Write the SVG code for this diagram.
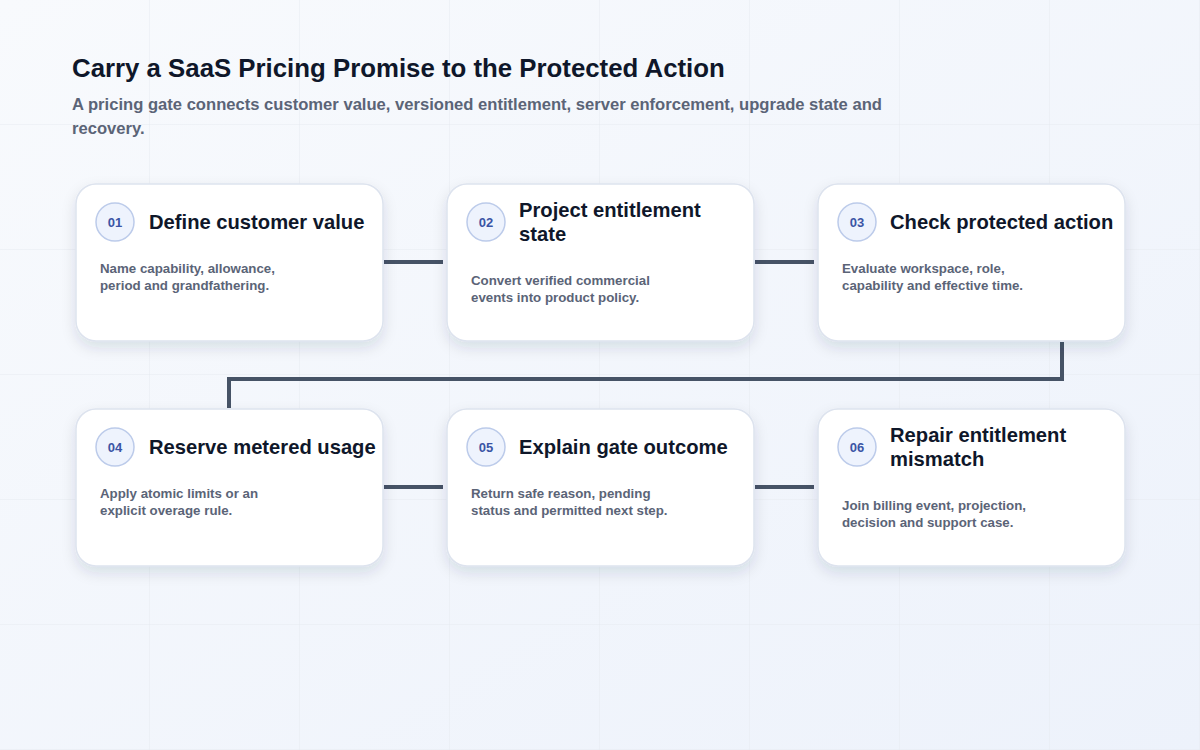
<svg xmlns="http://www.w3.org/2000/svg" width="1200" height="750" viewBox="0 0 1200 750">
<defs>
<linearGradient id="bg" x1="0" y1="0" x2="1" y2="1">
<stop offset="0" stop-color="#f8fafd"/>
<stop offset="1" stop-color="#edf2fb"/>
</linearGradient>
<pattern id="grid" x="0" y="0" width="150" height="125" patternUnits="userSpaceOnUse">
<path d="M150 0V125M0 125H150" fill="none" stroke="#e6eaf1" stroke-width="1"/>
</pattern>
<filter id="shadow" x="-20%" y="-20%" width="140%" height="150%">
<feDropShadow dx="0" dy="6" stdDeviation="7" flood-color="#1e2a4a" flood-opacity="0.12"/>
</filter>
</defs>
<style>
.card{fill:#ffffff;stroke:#dde3ee;stroke-width:1.5;filter:url(#shadow)}
.badge{fill:#eef3fd;stroke:#bccbea;stroke-width:1.5}
.num{font-family:"Liberation Sans",Arial,sans-serif;font-size:13px;font-weight:bold;fill:#3b55a5;text-anchor:middle}
.ttl{font-family:"Liberation Sans",Arial,sans-serif;font-size:20.2px;font-weight:bold;fill:#0f172a}
.dsc{font-family:"Liberation Sans",Arial,sans-serif;font-size:13.3px;font-weight:bold;fill:#5b6477}
.head{font-family:"Liberation Sans",Arial,sans-serif;font-size:25.8px;font-weight:bold;fill:#0f172a}
.sub{font-family:"Liberation Sans",Arial,sans-serif;font-size:16.6px;font-weight:bold;fill:#5b6477}
.conn{fill:none;stroke:#465366;stroke-width:4}
</style>
<rect width="1200" height="750" fill="url(#bg)"/>
<rect width="1200" height="750" fill="url(#grid)"/>
<g id="header">
<text class="head" x="72" y="77">Carry a SaaS Pricing Promise to the Protected Action</text>
<text class="sub" x="72" y="110">A pricing gate connects customer value, versioned entitlement, server enforcement, upgrade state and</text>
<text class="sub" x="72" y="134">recovery.</text>
</g>
<g id="connectors">
<path class="conn" d="M384 262H443"/>
<path class="conn" d="M755 262H814"/>
<path class="conn" d="M1062 342V379H229V408"/>
<path class="conn" d="M384 487H443"/>
<path class="conn" d="M755 487H814"/>
</g>
<g id="node1">
<rect class="card" x="76" y="184" width="307" height="157" rx="20"/>
<circle class="badge" cx="115" cy="222" r="19"/>
<text class="num" x="115" y="227">01</text>
<text class="ttl" x="149" y="229">Define customer value</text>
<text class="dsc" x="100" y="273">Name capability, allowance,</text>
<text class="dsc" x="100" y="290">period and grandfathering.</text>
</g>
<g id="node2">
<rect class="card" x="447" y="184" width="307" height="157" rx="20"/>
<circle class="badge" cx="486" cy="222" r="19"/>
<text class="num" x="486" y="227">02</text>
<text class="ttl" x="519" y="217">Project entitlement</text>
<text class="ttl" x="519" y="241">state</text>
<text class="dsc" x="471" y="285">Convert verified commercial</text>
<text class="dsc" x="471" y="302">events into product policy.</text>
</g>
<g id="node3">
<rect class="card" x="818" y="184" width="307" height="157" rx="20"/>
<circle class="badge" cx="857" cy="222" r="19"/>
<text class="num" x="857" y="227">03</text>
<text class="ttl" x="890" y="229">Check protected action</text>
<text class="dsc" x="842" y="273">Evaluate workspace, role,</text>
<text class="dsc" x="842" y="290">capability and effective time.</text>
</g>
<g id="node4">
<rect class="card" x="76" y="409" width="307" height="157" rx="20"/>
<circle class="badge" cx="115" cy="447" r="19"/>
<text class="num" x="115" y="452">04</text>
<text class="ttl" x="149" y="454">Reserve metered usage</text>
<text class="dsc" x="100" y="498">Apply atomic limits or an</text>
<text class="dsc" x="100" y="515">explicit overage rule.</text>
</g>
<g id="node5">
<rect class="card" x="447" y="409" width="307" height="157" rx="20"/>
<circle class="badge" cx="486" cy="447" r="19"/>
<text class="num" x="486" y="452">05</text>
<text class="ttl" x="519" y="454">Explain gate outcome</text>
<text class="dsc" x="471" y="498">Return safe reason, pending</text>
<text class="dsc" x="471" y="515">status and permitted next step.</text>
</g>
<g id="node6">
<rect class="card" x="818" y="409" width="307" height="157" rx="20"/>
<circle class="badge" cx="857" cy="447" r="19"/>
<text class="num" x="857" y="452">06</text>
<text class="ttl" x="890" y="442">Repair entitlement</text>
<text class="ttl" x="890" y="466">mismatch</text>
<text class="dsc" x="842" y="510">Join billing event, projection,</text>
<text class="dsc" x="842" y="527">decision and support case.</text>
</g>
</svg>
